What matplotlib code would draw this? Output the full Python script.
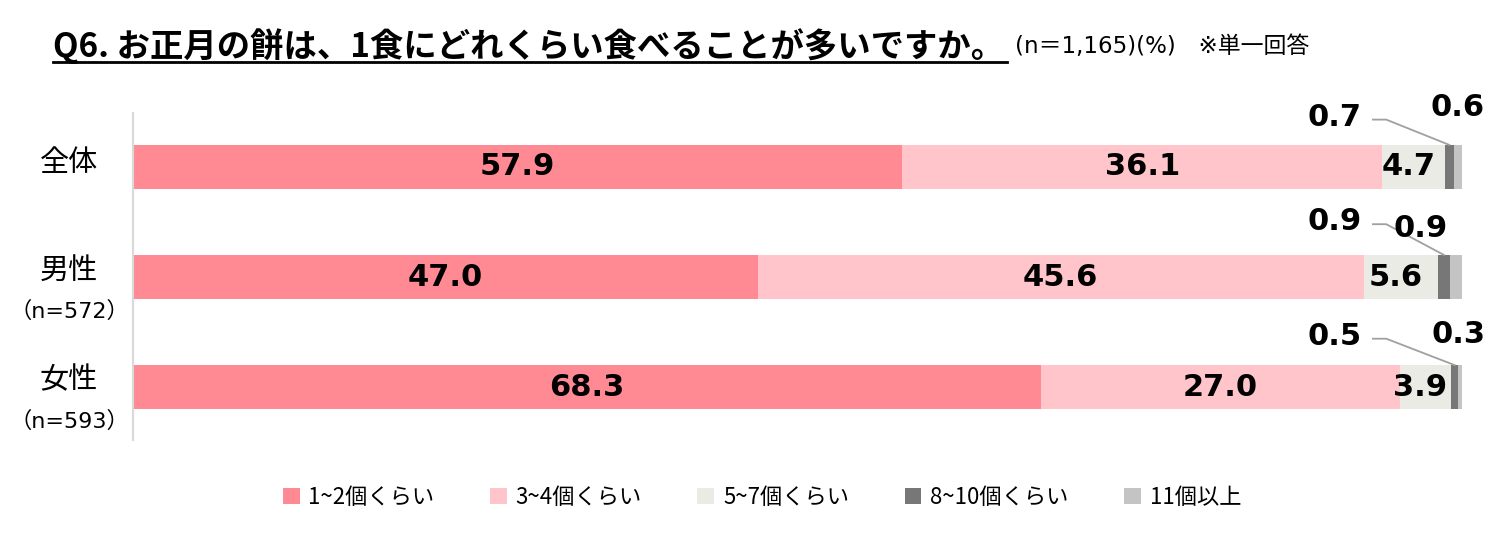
import matplotlib
matplotlib.use("Agg")
import matplotlib.pyplot as plt
from matplotlib.patches import Patch
from matplotlib.lines import Line2D
from matplotlib import transforms

plt.rcParams['font.family'] = ['Noto Sans CJK JP', 'DejaVu Sans']

# data
groups = ['全体', '男性', '女性']
group_n = ['', '（n=572）', '（n=593）']
series = ['1~2個くらい', '3~4個くらい', '5~7個くらい', '8~10個くらい', '11個以上']
v_1_2 = [57.9, 47.0, 68.3]
v_3_4 = [36.1, 45.6, 27.0]
v_5_7 = [4.7, 5.6, 3.9]
v_8_10 = [0.7, 0.9, 0.5]
v_11 = [0.6, 0.9, 0.3]

title = 'Q6. お正月の餅は、1食にどれくらい食べることが多いですか。'
subtitle = '(n＝1,165)(%)　※単一回答'

colors = ['#FF8A94', '#FFC5CB', '#EBEBE6', '#777777', '#C4C4C4']

W, H = 1512, 538
fig = plt.figure(figsize=(W / 100, H / 100), dpi=100)
ax = fig.add_axes([133 / W, 1 - 440 / H, 1329 / W, 327 / H])

values = [v_1_2, v_3_4, v_5_7, v_8_10, v_11]
ypos = list(range(len(groups)))
left = [0.0] * len(groups)
for vals, col, name in zip(values, colors, series):
    ax.barh(ypos, vals, left=left, height=0.4, color=col, label=name)
    left = [l + v for l, v in zip(left, vals)]

ax.set_xlim(0, 100)
ax.set_ylim(2.48, -0.49)
for s in ['top', 'right', 'bottom']:
    ax.spines[s].set_visible(False)
ax.spines['left'].set_color('#D9D9D9')
ax.spines['left'].set_linewidth(1.5)
ax.set_xticks([])
ax.set_yticks([])

num_font = dict(family='DejaVu Sans', fontweight='bold', fontsize=22, color='black')

# labels inside the big segments
for i in ypos:
    a, b, c = v_1_2[i], v_3_4[i], v_5_7[i]
    ax.text(a / 2, i, f'{a:.1f}', ha='center', va='center', **num_font)
    ax.text(a + b / 2, i, f'{b:.1f}', ha='center', va='center', **num_font)
    ax.text(a + b + c / 2 - 0.4, i, f'{c:.1f}', ha='center', va='center', **num_font)

# small segments: labels above with leader line
lab8_dy = [-0.45, -0.50, -0.46]
lab11_x = [99.7, 96.9, 99.7]
lab11_dy = [-0.54, -0.44, -0.48]
for i in ypos:
    start = v_1_2[i] + v_3_4[i] + v_5_7[i]
    mid8 = start + v_8_10[i] / 2
    ly = i + lab8_dy[i]
    ax.text(90.4, ly, f'{v_8_10[i]:.1f}', ha='center', va='center', **num_font)
    ax.plot([93.3, 94.3, mid8], [ly + 0.02, ly + 0.02, i - 0.2],
            color='#A0A0A0', lw=1.3, clip_on=False)
    ax.text(lab11_x[i], i + lab11_dy[i], f'{v_11[i]:.1f}', ha='center', va='center', **num_font)

# category labels
tr = transforms.blended_transform_factory(fig.transFigure, ax.transData)
for i, (g, n) in enumerate(zip(groups, group_n)):
    if n:
        fig.text(69 / W, i - 0.06, g, ha='center', va='center', fontsize=21, transform=tr)
        fig.text(69 / W, i + 0.31, n, ha='center', va='center', fontsize=16,
                 family=['DejaVu Sans', 'Noto Sans CJK JP'], transform=tr)
    else:
        fig.text(69 / W, i - 0.04, g, ha='center', va='center', fontsize=21, transform=tr)

# title with underline
t = fig.text(53 / W, 1 - 46 / H, title, ha='left', va='center', fontsize=24,
             fontweight='bold', family='Noto Sans CJK JP')
fig.text(1015 / W, 1 - 47 / H, subtitle, ha='left', va='center', fontsize=16.5,
         family=['DejaVu Sans', 'Noto Sans CJK JP'])
fig.canvas.draw()
bb = t.get_window_extent().transformed(fig.transFigure.inverted())
fig.add_artist(Line2D([bb.x0, bb.x1 + 3 / W], [1 - 62 / H, 1 - 62 / H],
                      color='black', lw=2, transform=fig.transFigure))

# legend
handles = [Patch(facecolor=c, edgecolor='none') for c in colors]
fig.legend(handles, series, loc='center', bbox_to_anchor=(762 / W, 1 - 497 / H),
           ncol=5, frameon=False, fontsize=16, handlelength=0.75, handleheight=0.75,
           handletextpad=0.4, columnspacing=2.5)

fig.savefig('out.png', dpi=100)
